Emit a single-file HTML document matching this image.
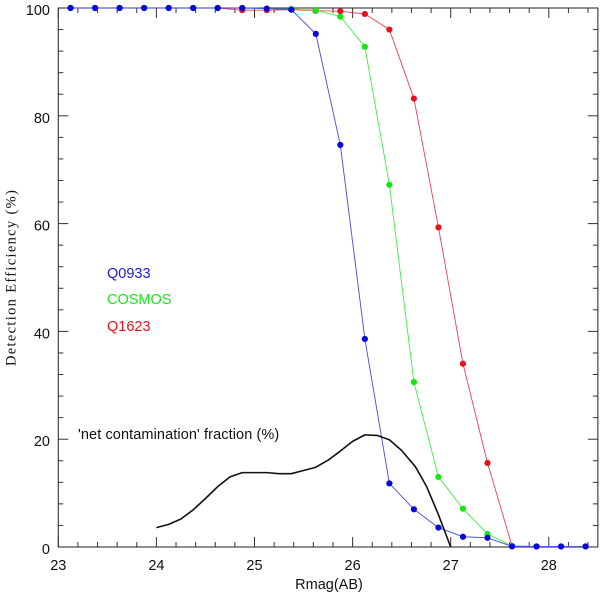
<!DOCTYPE html>
<html>
<head>
<meta charset="utf-8">
<title>Detection Efficiency</title>
<style>
html,body{margin:0;padding:0;background:#fff;width:600px;height:596px;overflow:hidden}
svg{display:block}
text{font-family:"Liberation Sans",sans-serif;font-size:14.5px;fill:#111}
</style>
</head>
<body>
<svg id="chart" xmlns="http://www.w3.org/2000/svg" width="600" height="596" viewBox="0 0 600 596">
  <g id="axes"></g>
  <g id="series"></g>
  <text x="329" y="589" text-anchor="middle">Rmag(AB)</text>
  <text transform="translate(15.5,366) rotate(-90)" style="font-family:'Liberation Serif',serif;font-size:14.5px;letter-spacing:1.32px">Detection Efficiency (%)</text>
  <text x="107" y="278" style="fill:#1a1ae0">Q0933</text>
  <text x="107" y="304" style="fill:#16e816">COSMOS</text>
  <text x="107" y="331" style="fill:#e8101c">Q1623</text>
  <text x="78" y="439" style="letter-spacing:0.1px">'net contamination' fraction (%)</text>
</svg>
<script>
const magnitudes = [23.125,23.375,23.625,23.875,24.125,24.375,24.625,24.875,25.125,25.375,25.625,25.875,26.125,26.375,26.625,26.875,27.125,27.375,27.625,27.875,28.125,28.375];
const q1623Values = [100,100,100,100,100,100,100,99.6,99.6,99.7,99.5,99.4,98.9,96,83.2,59.3,34,15.6,0.2,0.1,0.1,0.1];
const cosmosValues = [100,100,100,100,100,100,100,100,99.9,99.8,99.6,98.4,92.8,67.2,30.6,13,7.1,2.4,0.2,0.1,0.1,0.1];
const q0933Values = [100,100,100,100,100,100,100,100,99.9,99.7,95.2,74.6,38.6,11.8,7,3.6,1.9,1.7,0.1,0.1,0.1,0.1];
const contaminationMags = [24,24.125,24.25,24.375,24.5,24.625,24.75,24.875,25,25.125,25.25,25.375,25.5,25.625,25.75,25.875,26,26.125,26.25,26.375,26.5,26.64,26.755,26.875,27];
const contaminationValues = [3.6,4.2,5.2,6.9,9,11.2,13,13.8,13.8,13.8,13.6,13.6,14.2,14.8,16.1,17.8,19.6,20.8,20.7,19.9,17.9,14.9,11.2,6,0];
const xTickLabels = [23,24,25,26,27,28];
const yTickLabels = [0,20,40,60,80,100];

const SVGNS = 'http://www.w3.org/2000/svg';
const axesGroup = document.getElementById('axes');
const seriesGroup = document.getElementById('series');
const xScale = function (v) { return 58.3 + (v - 23) * 98.1; };
const yScale = function (v) { return 547 - v * 5.39; };

function make(tag, parent, props) {
  const el = document.createElementNS(SVGNS, tag);
  for (const k in props) { el.setAttribute(k, props[k]); }
  parent.appendChild(el);
  return el;
}
function tickLine(x1, y1, x2, y2, name) {
  const el = make('line', axesGroup, {x1: x1, y1: y1, x2: x2, y2: y2, stroke: '#333', 'stroke-width': 1});
  
  
}

const frame = make('rect', axesGroup, {x: xScale(23), y: yScale(100), width: xScale(28.5) - xScale(23), height: yScale(0) - yScale(100), fill: 'none', stroke: '#333', 'stroke-width': 1.1});



for (let i = 0; i <= 27; i++) {
  const v = 23 + i * 0.2;
  const len = i % 5 === 0 ? 10 : 5;
  tickLine(xScale(v), yScale(0), xScale(v), yScale(0) - len, 'x-tick-bottom');
  tickLine(xScale(v), yScale(100), xScale(v), yScale(100) + len, 'x-tick-top');
}
for (let i = 0; i <= 25; i++) {
  const v = i * 4;
  const len = i % 5 === 0 ? 10 : 5;
  tickLine(xScale(23), yScale(v), xScale(23) + len, yScale(v), 'y-tick-left');
  tickLine(xScale(28.5), yScale(v), xScale(28.5) - len, yScale(v), 'y-tick-right');
}
xTickLabels.forEach(function (v) {
  const t = make('text', axesGroup, {x: xScale(v), y: 570, 'text-anchor': 'middle'});
  t.textContent = String(v);
  
  
});
yTickLabels.forEach(function (v) {
  const t = make('text', axesGroup, {x: 50, y: yScale(v) + 7, 'text-anchor': 'end'});
  t.textContent = String(v);
  
  
});

function drawSeries(values, lineColor, dotColor, name) {
  const pts = values.map(function (v, i) { return xScale(magnitudes[i]) + ',' + yScale(v); }).join(' ');
  const line = make('polyline', seriesGroup, {points: pts, fill: 'none', stroke: lineColor, 'stroke-width': 0.9});
  
  
  values.forEach(function (v, i) {
    const dot = make('circle', seriesGroup, {cx: xScale(magnitudes[i]), cy: yScale(v), r: 3.1, fill: dotColor});
    
    
  });
}
drawSeries(q1623Values, '#f0404a', '#e8101c', 'q1623');
drawSeries(cosmosValues, '#40ee40', '#10e810', 'cosmos');
drawSeries(q0933Values, '#4848e8', '#0808d8', 'q0933');

const blackPts = contaminationValues.map(function (v, i) { return xScale(contaminationMags[i]) + ',' + yScale(v); }).join(' ');
const blackLine = make('polyline', seriesGroup, {points: blackPts, fill: 'none', stroke: '#111', 'stroke-width': 1.6, 'stroke-linejoin': 'round'});


</script>
</body>
</html>
